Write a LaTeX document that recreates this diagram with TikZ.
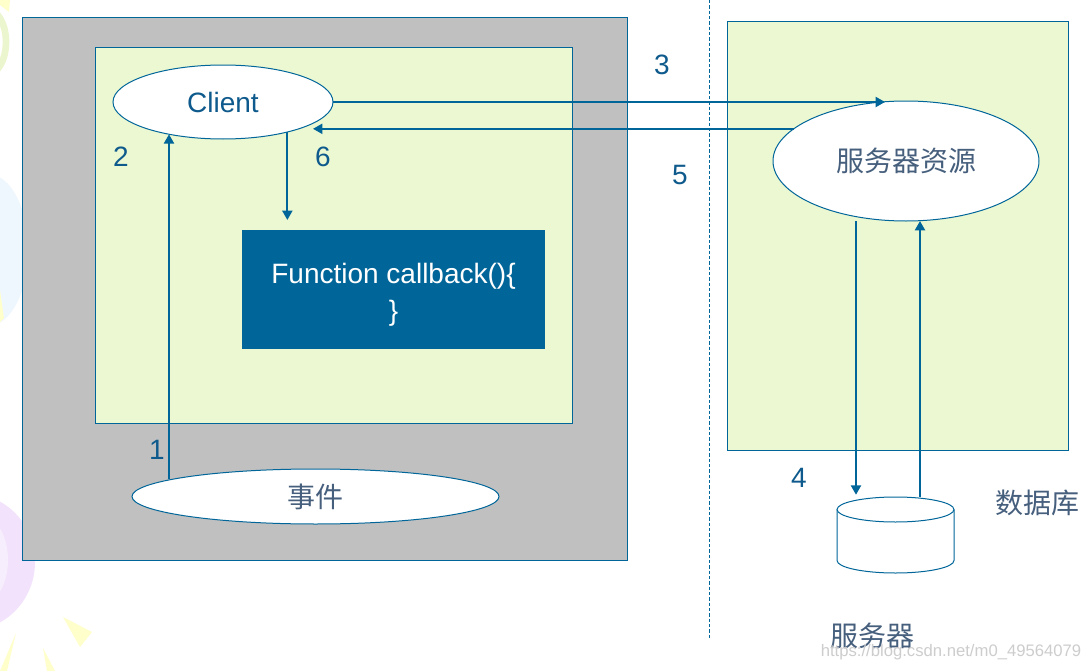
\documentclass[tikz,border=0pt]{standalone}
\usepackage{fontspec}
\setmainfont{Liberation Sans}
\newfontfamily\cjk{Noto Sans CJK SC}
\usetikzlibrary{arrows.meta,calc,shapes.geometric}
\definecolor{lineblue}{RGB}{0,102,153}
\definecolor{txtblue}{RGB}{14,90,140}
\definecolor{grayfill}{RGB}{192,192,192}
\definecolor{greenfill}{RGB}{236,248,210}
\definecolor{cjkcol}{RGB}{70,95,125}
\definecolor{boxblue}{RGB}{0,102,153}
\definecolor{decopurple}{RGB}{242,226,251}
\definecolor{decopurplelt}{RGB}{247,238,253}
\definecolor{decoyellow}{RGB}{255,255,204}
\definecolor{decogreen}{RGB}{236,246,206}
\definecolor{decoblue}{RGB}{238,247,254}
\definecolor{wmgray}{RGB}{205,205,205}
\tikzset{
  panel/.style={draw=lineblue,line width=0.75pt},
  oval/.style={ellipse,draw=lineblue,line width=0.75pt,fill=white,inner sep=0pt,outer sep=0pt},
  arr/.style={draw=lineblue,line width=1.5pt,-{Triangle[length=7pt,width=7.5pt]}},
  numlbl/.style={text=txtblue,font=\fontsize{21}{25}\selectfont,inner sep=0pt},
  cjklbl/.style={text=cjkcol,font=\cjk\fontsize{21}{25}\selectfont,inner sep=0pt},
  dashline/.style={draw=lineblue,line width=0.75pt,dash pattern=on 2.5pt off 1.5pt},
}
\begin{document}
\begin{tikzpicture}[x=0.75pt,y=-0.75pt]
\useasboundingbox (0,0) rectangle (1083,671);
\fill[white] (0,0) rectangle (1083,671);
% faint background decorations
\begin{scope}
\clip (0,0) rectangle (1083,671);
\draw[decogreen,line width=5pt] (-12,42) ellipse (18 and 32);
\fill[decoyellow] (0,0) -- (10,0) -- (9,12) -- (0,5) -- cycle;
\fill[decoblue] (-10,250) ellipse (38 and 75);
\fill[decopurple] (-30,562) ellipse (65 and 68);
\fill[decopurplelt] (-20,560) ellipse (28 and 45);
\fill[decoyellow] (63,617) -- (92,632) -- (80,647) -- cycle;
\fill[decoyellow] (16,633) -- (7,671) -- (0,671) -- cycle;
\fill[decoyellow] (43,648) -- (55,671) -- (47,671) -- cycle;
\fill[decoyellow] (0,290) -- (4,318) -- (0,322) -- cycle;
\end{scope}
% panels
\draw[panel,fill=grayfill] (22,17) rectangle (627,560);
\draw[panel,fill=greenfill] (95,47) rectangle (572,423);
\draw[panel,fill=greenfill] (727,21) rectangle (1068,450);
% separator
\coordinate (dtop) at (709,0);
\coordinate (dbot) at (709,640);
\draw[dashline] (dtop) -- (dbot);
% nodes
\node[oval,minimum width=165pt,minimum height=55.5pt] (client) at (223,102)
  {\textcolor{txtblue}{\fontsize{21}{25}\selectfont Client}};
\node[oval,minimum width=199.5pt,minimum height=90pt] (srv) at (906,161)
  {\textcolor{cjkcol}{\cjk\fontsize{21}{25}\selectfont 服务器资源}};
\node[oval,minimum width=275.25pt,minimum height=41.25pt] (eve) at (315.5,496.5)
  {\textcolor{cjkcol}{\cjk\fontsize{21}{25}\selectfont 事件}};
\node[rectangle,fill=boxblue,minimum width=227.25pt,minimum height=89.25pt,inner sep=0pt] (fn) at (393.5,289.5) {};
\node[text=white,align=center,inner sep=0pt,font=\fontsize{21}{27.75}\selectfont] (fntext) at (393.5,294.5)
  {Function callback()\{\\\}};
% database cylinder
\node[rectangle,minimum width=87.75pt,minimum height=57pt,inner sep=0pt] (db) at (895.5,535) {};
\draw[lineblue,line width=0.75pt,fill=white]
  (837,509.5) -- (837,560.5) arc[start angle=180,end angle=0,x radius=58.5,y radius=12.5]
  -- (954,509.5);
\draw[lineblue,line width=0.75pt,fill=white] (895.5,509.5) ellipse (58.5 and 12.5);
% labels
\node[numlbl] (n1) at (157,450) {1};
\node[numlbl] (n2) at (121,157) {2};
\node[numlbl] (n3) at (662,65) {3};
\node[numlbl] (n4) at (799,478) {4};
\node[numlbl] (n5) at (680,175) {5};
\node[numlbl] (n6) at (323,157) {6};
\node[cjklbl] (dblbl) at (1037,503) {数据库};
\node[cjklbl] (srvlbl) at (872,636) {服务器};
\node[text=wmgray,font=\fontsize{12.5}{14}\selectfont,inner sep=0pt] (wm) at (951,652) {https://blog.csdn.net/m0\_49564079};
% helper coordinates
\coordinate (c3x) at (885,0);
\coordinate (c5x) at (313,0);
\coordinate (c6y) at (0,220);
\coordinate (p4x) at (856,0);
\coordinate (p7x) at (920,0);
\coordinate (e1) at (169,479);
% connectors
\draw[arr] (e1) -- (e1 |- client.211);
\draw[arr] (client.east) -- (client.east -| c3x);
\draw[arr] (srv.164.7) -- (srv.164.7 -| c5x);
\draw[arr] (client.335.4) -- (client.335.4 |- c6y);
\draw[arr] (srv.south -| p4x) -- ($(db.north -| p4x)+(0,-2)$);
\draw[arr] (db.north -| p7x) -- (srv.south -| p7x);
\end{tikzpicture}
\end{document}
